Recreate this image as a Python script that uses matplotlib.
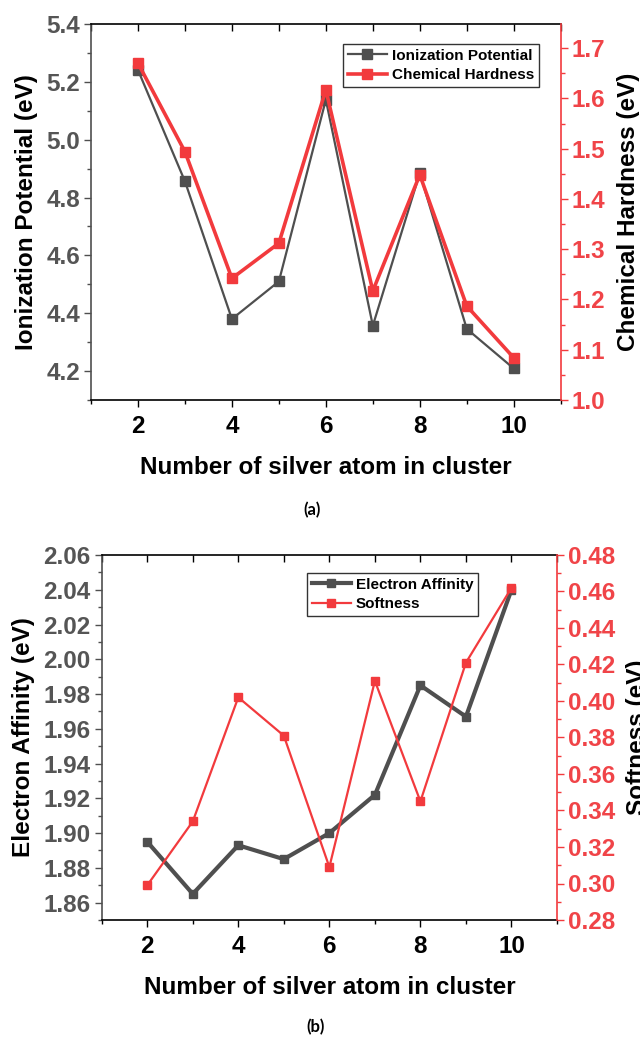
import matplotlib
matplotlib.use("Agg")
import matplotlib.pyplot as plt
from matplotlib.ticker import MultipleLocator, FormatStrFormatter

plt.rcParams['font.family'] = ['Liberation Sans', 'DejaVu Sans']
plt.rcParams['font.weight'] = 'bold'

# ---- data ----
atoms = [2, 3, 4, 5, 6, 7, 8, 9, 10]
ionization_potential = [5.241, 4.856, 4.380, 4.510, 5.138, 4.357, 4.884, 4.346, 4.209]
chemical_hardness = [1.670, 1.494, 1.242, 1.312, 1.617, 1.217, 1.448, 1.187, 1.084]
electron_affinity = [1.895, 1.865, 1.893, 1.885, 1.900, 1.922, 1.985, 1.967, 2.040]
softness = [0.299, 0.334, 0.402, 0.381, 0.309, 0.411, 0.345, 0.421, 0.462]

x_ticks = [2, 4, 6, 8, 10]
x_label = "Number of silver atom in cluster"

GRAY = '#4f4f4f'
RED = '#f23a3d'
RED_TXT = '#f04448'
TICK_FS = 17.5
LABEL_FS = 17.5

W, H = 640, 1037
fig = plt.figure(figsize=(W / 100, H / 100), dpi=100)


def style_axes(ax, ax2, ylim_l, ylim_r, lmaj, lmin, rmaj, rmin, lfmt, rfmt):
    ax.set_xlim(1, 11)
    ax.set_ylim(*ylim_l)
    ax2.set_ylim(*ylim_r)
    ax.xaxis.set_major_locator(MultipleLocator(2))
    ax.xaxis.set_minor_locator(MultipleLocator(1))
    ax.yaxis.set_major_locator(MultipleLocator(lmaj))
    ax.yaxis.set_minor_locator(MultipleLocator(lmin))
    ax2.yaxis.set_major_locator(MultipleLocator(rmaj))
    ax2.yaxis.set_minor_locator(MultipleLocator(rmin))
    ax.yaxis.set_major_formatter(FormatStrFormatter(lfmt))
    ax2.yaxis.set_major_formatter(FormatStrFormatter(rfmt))
    ax.set_xticks(x_ticks)
    ax.set_xticklabels([str(t) for t in x_ticks])
    ax.tick_params(axis='x', which='both', direction='out', top=False,
                   labelsize=TICK_FS, colors='black', pad=6, width=1.0)
    ax.tick_params(axis='x', which='major', length=5)
    ax.tick_params(axis='x', which='minor', length=3)
    # top ticks pointing inward
    sec = ax.secondary_xaxis('top')
    sec.xaxis.set_major_locator(MultipleLocator(1))
    sec.tick_params(axis='x', which='major', direction='in', length=5, width=1.0,
                    labeltop=False, colors='black')
    sec.spines['top'].set_visible(False)
    ax.tick_params(axis='y', which='both', direction='out', labelsize=TICK_FS,
                   colors=GRAY, labelcolor='#555555', pad=3, width=1.0)
    ax.tick_params(axis='y', which='major', length=5)
    ax.tick_params(axis='y', which='minor', length=3)
    ax2.tick_params(axis='y', which='both', direction='out', labelsize=TICK_FS,
                    colors=RED, labelcolor=RED_TXT, pad=3, width=1.0)
    ax2.tick_params(axis='y', which='major', length=5)
    ax2.tick_params(axis='y', which='minor', length=3)
    for s in ['top', 'bottom']:
        ax.spines[s].set_color('black')
        ax.spines[s].set_linewidth(1.2)
    ax.spines['left'].set_color(GRAY)
    ax.spines['left'].set_linewidth(1.2)
    ax2.spines['right'].set_color(RED)
    ax2.spines['right'].set_linewidth(1.2)
    ax2.spines['left'].set_visible(False)
    ax2.spines['top'].set_visible(False)
    ax2.spines['bottom'].set_visible(False)
    ax.spines['right'].set_visible(False)
    for lab in ax.get_xticklabels() + ax.get_yticklabels() + ax2.get_yticklabels():
        lab.set_fontweight('bold')


# ---- panel (a) ----
ax1 = fig.add_axes([91 / W, 1 - 400 / H, (560.7 - 91) / W, (400 - 24) / H])
ax1r = ax1.twinx()
l1, = ax1.plot(atoms, ionization_potential, color=GRAY, lw=1.6, marker='s', ms=6.5,
               label='Ionization Potential', zorder=3)
l2, = ax1r.plot(atoms, chemical_hardness, color=RED, lw=2.6, marker='s', ms=6.5,
                label='Chemical Hardness', zorder=4)
style_axes(ax1, ax1r, (4.1, 5.4), (1.0, 1.748), 0.2, 0.1, 0.1, 0.05, '%.1f', '%.1f')
ax1.set_xlabel(x_label, fontsize=LABEL_FS, fontweight='bold', labelpad=13)
ax1.set_ylabel('Ionization Potential (eV)', fontsize=LABEL_FS, fontweight='bold', labelpad=6)
ax1r.set_ylabel('Chemical Hardness (eV)', fontsize=LABEL_FS, fontweight='bold',
                rotation=90, labelpad=8)
leg1 = ax1r.legend([l1, l2], ['Ionization Potential', 'Chemical Hardness'],
                   loc='upper left', bbox_to_anchor=(343 / W, 1 - 44 / H),
                   bbox_transform=fig.transFigure, frameon=True, fancybox=False,
                   edgecolor='black', prop={'size': 11, 'weight': 'bold'},
                   handlelength=2.6, handletextpad=0.3, borderpad=0.3,
                   labelspacing=0.35, borderaxespad=0)
leg1.get_frame().set_linewidth(1.0)

# ---- panel (b) ----
ax2 = fig.add_axes([101.7 / W, 1 - 920 / H, (557 - 101.7) / W, (920 - 555) / H])
ax2r = ax2.twinx()
l3, = ax2.plot(atoms, electron_affinity, color=GRAY, lw=3.0, marker='s', ms=6,
               label='Electron Affinity', zorder=3)
l4, = ax2r.plot(atoms, softness, color=RED, lw=1.6, marker='s', ms=6,
                label='Softness', zorder=4)
style_axes(ax2, ax2r, (1.85, 2.06), (0.28, 0.48), 0.02, 0.01, 0.02, 0.01, '%.2f', '%.2f')
ax2.set_xlabel(x_label, fontsize=LABEL_FS, fontweight='bold', labelpad=13)
ax2.set_ylabel('Electron Affinity (eV)', fontsize=LABEL_FS, fontweight='bold', labelpad=6)
ax2r.set_ylabel('Softness (eV)', fontsize=LABEL_FS, fontweight='bold',
                rotation=90, labelpad=8)
leg2 = ax2r.legend([l3, l4], ['Electron Affinity', 'Softness'],
                   loc='upper left', bbox_to_anchor=(307 / W, 1 - 573 / H),
                   bbox_transform=fig.transFigure, frameon=True, fancybox=False,
                   edgecolor='black', prop={'size': 11, 'weight': 'bold'},
                   handlelength=2.6, handletextpad=0.3, borderpad=0.3,
                   labelspacing=0.35, borderaxespad=0)
leg2.get_frame().set_linewidth(1.0)

fig.text(312 / W, 1 - 510 / H, '(a)', ha='center', va='center', fontsize=12,
         fontweight='bold', family=['Lato', 'DejaVu Sans'])
fig.text(316 / W, 1 - 1027 / H, '(b)', ha='center', va='center', fontsize=12,
         fontweight='bold', family=['Lato', 'DejaVu Sans'])

fig.savefig('out.png', dpi=100)
